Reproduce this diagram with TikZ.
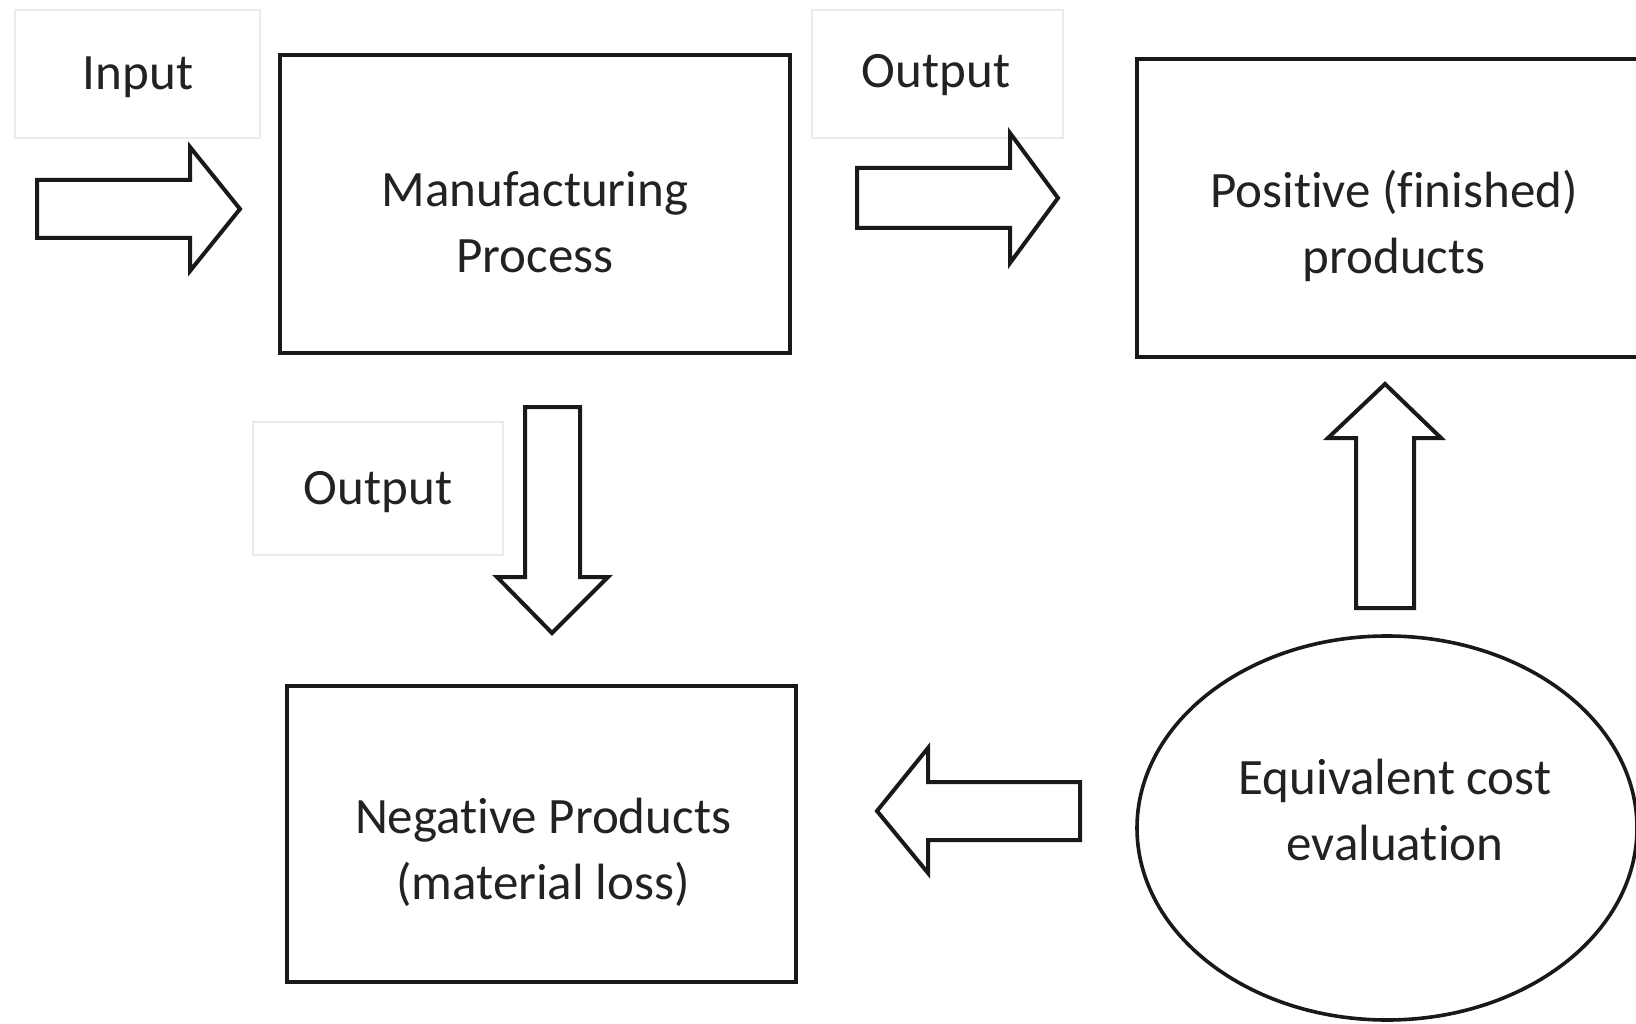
\documentclass[tikz,border=0pt]{standalone}
\usepackage{fontspec}
\setmainfont[Ligatures=NoCommon]{Carlito}
\usetikzlibrary{shapes.geometric}
\definecolor{txt}{HTML}{222222}
\definecolor{faint}{HTML}{EBEBEB}
\begin{document}
\begin{tikzpicture}[x=1pt,y=-1pt,
  every node/.style={font=\fontsize{51}{66}\selectfont, text=txt, align=center},
  procbox/.style={draw=black!90, line width=4.4pt, rectangle, inner sep=0pt},
  costoval/.style={draw=black!90, line width=3.6pt, ellipse, inner sep=0pt},
  lblbox/.style={draw=faint, line width=1.2pt, rectangle, inner sep=0pt},
  blockarrow/.style={draw=black!90, line width=4pt, fill=white, line join=miter}]
\clip (0,0) rectangle (1636,1024);
\fill[white] (0,0) rectangle (1636,1024);

% label boxes
\node[lblbox, minimum width=245pt, minimum height=128pt] (inlbl) at (137.5,74) {};
\node (intext) at (138,77) {Input};
\node[lblbox, minimum width=251pt, minimum height=128pt] (outlbl1) at (937.5,74) {};
\node (outtext1) at (936,75) {Output};
\node[lblbox, minimum width=250pt, minimum height=133pt] (outlbl2) at (378,488.5) {};
\node (outtext2) at (378,492) {Output};

% main shapes
\node[procbox, minimum width=510pt, minimum height=298pt] (mfg) at (535,204) {};
\node (mfgtext) at (535,222) {Manufacturing\\Process};
\node[procbox, minimum width=514pt, minimum height=298pt] (pos) at (1394,208) {};
\node (postext) at (1394,226) {Positive (finished)\\products};
\node[procbox, minimum width=509pt, minimum height=296pt] (neg) at (541.5,834) {};
\node (negtext) at (543,852) {Negative Products\\(material loss)};
\node[costoval, minimum width=500pt, minimum height=384pt] (cost) at (1387,828) {};
\node (costtext) at (1395,810) {Equivalent cost\\evaluation};

% block arrows
% input arrow (right)
\draw[blockarrow] (37,180) -- (190,180) -- (190,147) -- (240,209) -- (190,271) -- (190,238) -- (37,238) -- cycle;
% output arrow (right) mfg -> pos
\draw[blockarrow] (857,168) -- (1010,168) -- (1010,133) -- (1058,198) -- (1010,263) -- (1010,228) -- (857,228) -- cycle;
% output arrow (down) mfg -> neg
\draw[blockarrow] (525,407) -- (580,407) -- (580,577) -- (608,577) -- (552,633) -- (497,577) -- (525,577) -- cycle;
% cost -> pos (up)
\draw[blockarrow] (1356,608) -- (1356,438) -- (1328,438) -- (1385,384) -- (1441,438) -- (1414,438) -- (1414,608) -- cycle;
% cost -> neg (left)
\draw[blockarrow] (1080,782) -- (928,782) -- (928,748) -- (877,811) -- (928,873) -- (928,840) -- (1080,840) -- cycle;
\end{tikzpicture}
\end{document}
